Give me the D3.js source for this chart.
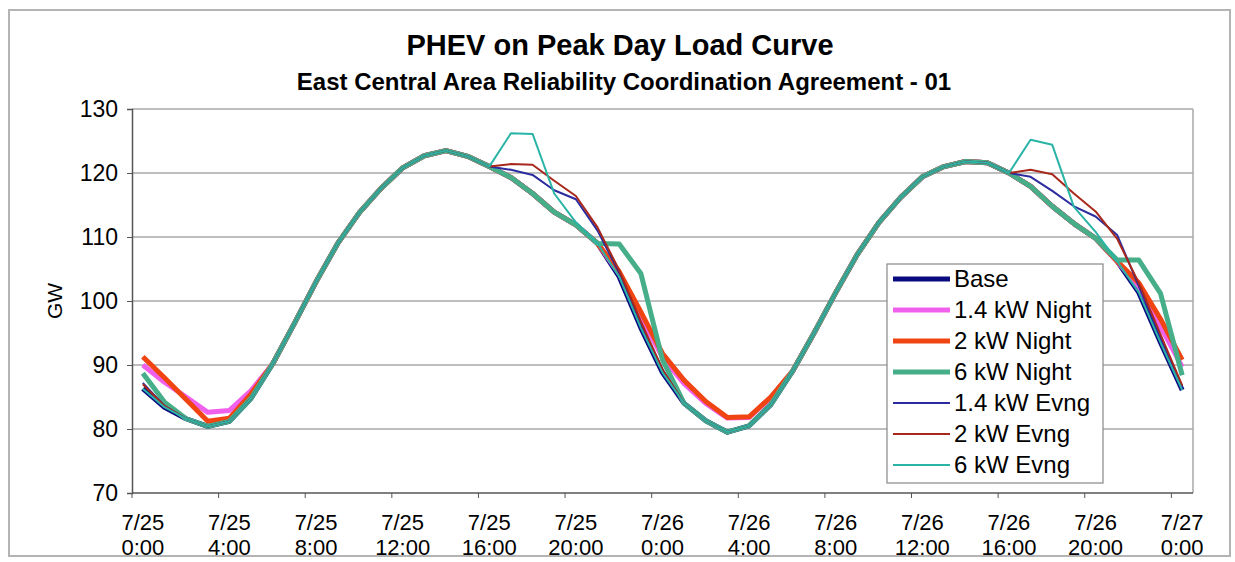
<!DOCTYPE html>
<html><head><meta charset="utf-8">
<script src="https://cdn.jsdelivr.net/npm/d3@7"></script>
<style>html,body{margin:0;padding:0;background:#fff;} svg{display:block;font-family:"Liberation Sans",Arial,sans-serif;}</style>
</head><body><svg id="c" width="1235" height="562"></svg>
<script>
const hours = d3.range(49);
const tickDates = ["7/25","7/25","7/25","7/25","7/25","7/25","7/26","7/26","7/26","7/26","7/26","7/26","7/27"];
const tickTimes = ["0:00","4:00","8:00","12:00","16:00","20:00","0:00","4:00","8:00","12:00","16:00","20:00","0:00"];
const yTicks = [70,80,90,100,110,120,130];

const base = [86.3,83.4,81.6,80.4,81.2,84.8,90.2,96.5,103.0,109.0, 113.8,117.6,120.8,122.7,123.5,122.6,121.0,119.3,116.8,113.9, 111.9,109.0,103.8,95.8,88.8,84.0,81.3,79.5,80.5,83.8, 89.0,95.0,101.3,107.3,112.3,116.2,119.4,121.0,121.8,121.6, 120.0,117.9,114.8,112.1,109.8,106.2,101.3,93.5,86.1];
const night14 = [90.0,87.3,85.0,82.6,82.9,86.0,90.2,96.5,103.0,109.0, 113.8,117.6,120.8,122.7,123.5,122.6,121.0,119.3,116.8,113.9, 111.9,109.0,104.3,97.6,91.2,87.1,84.0,81.7,81.8,84.9, 89.0,95.0,101.3,107.3,112.3,116.2,119.4,121.0,121.8,121.6, 120.0,117.9,114.8,112.1,109.8,106.2,102.3,96.0,89.7];
const night2 = [91.3,88.0,84.6,81.2,81.7,85.5,90.2,96.5,103.0,109.0, 113.8,117.6,120.8,122.7,123.5,122.6,121.0,119.3,116.8,113.9, 111.9,109.0,104.6,98.3,91.8,87.6,84.3,81.8,81.9,85.0, 89.0,95.0,101.3,107.3,112.3,116.2,119.4,121.0,121.8,121.6, 120.0,117.9,114.8,112.1,109.8,106.2,102.8,97.2,90.8];
const night6 = [88.7,84.2,81.6,80.4,81.2,84.8,90.2,96.5,103.0,109.0, 113.8,117.6,120.8,122.7,123.5,122.6,121.0,119.3,116.8,113.9, 111.9,109.0,108.9,104.3,90.8,84.0,81.3,79.5,80.5,83.8, 89.0,95.0,101.3,107.3,112.3,116.2,119.4,121.0,121.8,121.6, 120.0,117.9,114.8,112.1,109.8,106.4,106.4,101.2,88.4];
const evng14 = [87.2,83.6,81.6,80.4,81.2,84.8,90.2,96.5,103.0,109.0, 113.8,117.6,120.8,122.7,123.5,122.6,121.0,120.5,119.7,117.3, 115.9,111.0,104.4,96.5,89.2,84.0,81.3,79.5,80.5,83.8, 89.0,95.0,101.3,107.3,112.3,116.2,119.4,121.0,121.8,121.6, 120.0,119.4,117.2,114.8,113.2,110.3,102.3,94.2,86.5];
const evng2 = [87.0,83.6,81.6,80.4,81.2,84.8,90.2,96.5,103.0,109.0, 113.8,117.6,120.8,122.7,123.5,122.6,121.0,121.4,121.3,118.8, 116.4,111.5,104.8,96.8,89.3,84.0,81.3,79.5,80.5,83.8, 89.0,95.0,101.3,107.3,112.3,116.2,119.4,121.0,121.8,121.6, 120.0,120.5,119.8,116.8,114.0,109.7,102.8,94.8,86.8];
const evng6 = [86.3,83.4,81.6,80.4,81.2,84.8,90.2,96.5,103.0,109.0, 113.8,117.6,120.8,122.7,123.5,122.6,121.0,126.2,126.1,116.8, 112.3,109.0,103.8,95.8,88.8,84.0,81.3,79.5,80.5,83.8, 89.0,95.0,101.3,107.3,112.3,116.2,119.4,121.0,121.8,121.6, 120.0,125.2,124.4,114.7,110.8,106.2,101.3,93.5,86.1];

const seriesNames = ["Base","1.4 kW Night","2 kW Night","6 kW Night","1.4 kW Evng","2 kW Evng","6 kW Evng"];
const seriesData = [base, night14, night2, night6, evng14, evng2, evng6];
const colors = ["#0a0a80","#f060ec","#f04412","#46ae88","#2c2ca0","#a8281c","#2ab4a6"];
const widths = [5,5,5,5,2,2,2];

const svg = d3.select("#c");
const L=132, R=1193, T=109, B=493;

// outer frame
svg.append("rect").attr("x",9).attr("y",10).attr("width",1221).attr("height",546)
  .attr("fill","#fff").attr("stroke","#b4b4b4").attr("stroke-width",2);

const x = d3.scalePoint().domain(hours).range([L,R]).padding(0.5);
const step = x.step();
const y = d3.scaleLinear().domain([70,130]).range([B,T]);

// gridlines
svg.append("g").selectAll("line").data(yTicks.filter(v=>v>70)).join("line")
  .attr("x1",L).attr("x2",R).attr("y1",d=>y(d)).attr("y2",d=>y(d))
  .attr("stroke","#a8a8a8").attr("stroke-width",1.5);
svg.append("line").attr("x1",R).attr("x2",R).attr("y1",T).attr("y2",B).attr("stroke","#a8a8a8").attr("stroke-width",1.5);

// y axis
const yAxis = d3.axisLeft(y).tickValues(yTicks).tickSize(5).tickPadding(9).tickFormat(d3.format("d"));
const gy = svg.append("g").attr("transform",`translate(${L},0)`).call(yAxis);
gy.select(".domain").attr("stroke","#555").attr("stroke-width",1.5);
gy.selectAll(".tick line").attr("stroke","#555");
gy.selectAll(".tick text").attr("font-size",23).attr("fill","#000").attr("font-family","Liberation Sans, Arial, sans-serif");

// x axis
const tickIdx = d3.range(0,49,4);
svg.append("line").attr("x1",L).attr("x2",R).attr("y1",B).attr("y2",B).attr("stroke","#555").attr("stroke-width",1.5);
svg.append("g").selectAll("line").data(tickIdx).join("line")
  .attr("x1",d=>x(d)-step/2).attr("x2",d=>x(d)-step/2).attr("y1",B).attr("y2",B+5)
  .attr("stroke","#555").attr("stroke-width",1);
const xl = svg.append("g").attr("font-size",22).attr("text-anchor","middle").attr("fill","#000");
tickIdx.forEach((h,i)=>{
  xl.append("text").attr("x",x(h)).attr("y",530).text(tickDates[i]);
  xl.append("text").attr("x",x(h)).attr("y",555).text(tickTimes[i]);
});

// GW label
svg.append("text").attr("transform",`translate(62,${(T+B)/2}) rotate(-90)`).attr("text-anchor","middle")
  .attr("font-size",21).text("GW");

// titles
svg.append("text").attr("x",620).attr("y",55).attr("text-anchor","middle").attr("font-weight","bold").attr("font-size",29).text("PHEV on Peak Day Load Curve");
svg.append("text").attr("x",624).attr("y",90).attr("text-anchor","middle").attr("font-weight","bold").attr("font-size",24).text("East Central Area Reliability Coordination Agreement - 01");

// lines
const line = d3.line().x((d,i)=>x(i)).y(d=>y(d));
const gl = svg.append("g").attr("fill","none").attr("stroke-linejoin","round");
seriesData.forEach((s,k)=>{
  gl.append("path").datum(s).attr("d",line).attr("stroke",colors[k]).attr("stroke-width",widths[k]);
});

// legend
const lg = svg.append("g");
lg.append("rect").attr("x",887).attr("y",264).attr("width",216).attr("height",219).attr("fill","#fff").attr("stroke","#888").attr("stroke-width",1.2);
seriesNames.forEach((n,k)=>{
  const cy = 279 + k*31;
  lg.append("line").attr("x1",893).attr("x2",950).attr("y1",cy).attr("y2",cy).attr("stroke",colors[k]).attr("stroke-width",widths[k]);
  lg.append("text").attr("x",954).attr("y",cy+8).attr("font-size",24).text(n);
});
</script></body></html>
